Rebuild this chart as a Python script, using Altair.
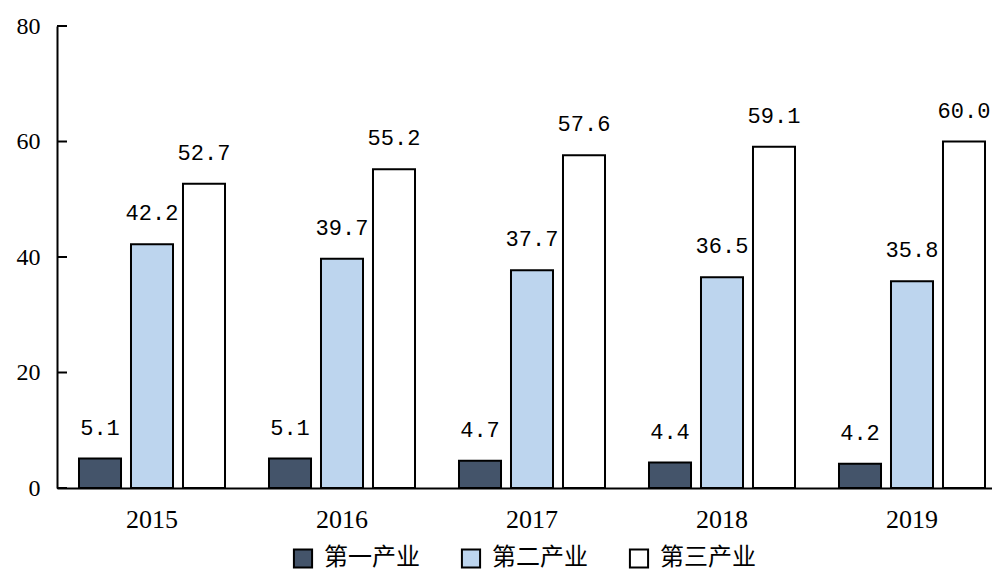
import altair as alt
import pandas as pd

years = ["2015", "2016", "2017", "2018", "2019"]
series = ["第一产业", "第二产业", "第三产业"]
primary = [5.1, 5.1, 4.7, 4.4, 4.2]
secondary = [42.2, 39.7, 37.7, 36.5, 35.8]
tertiary = [52.7, 55.2, 57.6, 59.1, 60.0]
y_ticks = [0, 20, 40, 60, 80]
colors = ["#44546a", "#bdd5ee", "#ffffff"]

rows = []
for i, y in enumerate(years):
    for s, vals in zip(series, [primary, secondary, tertiary]):
        rows.append({"year": y, "series": s, "value": vals[i]})
df = pd.DataFrame(rows)
ticks_df = pd.DataFrame({"t": y_ticks})

xenc = alt.X("year:N", sort=years,
             scale=alt.Scale(range=[0, 950], paddingInner=0, paddingOuter=0),
             axis=alt.Axis(title=None, labelAngle=0, ticks=False, domainColor="black",
                           domainWidth=2, labelFont="Liberation Serif", labelFontSize=26,
                           labelColor="black", labelPadding=18))
xoff = alt.XOffset("series:N", sort=series,
                   scale=alt.Scale(paddingInner=0.192, paddingOuter=0.423))
yscale = alt.Scale(domain=[0, 80], nice=False)

bars = alt.Chart(df).mark_bar(stroke="black", strokeWidth=2).encode(
    x=xenc,
    xOffset=xoff,
    y=alt.Y("value:Q", scale=yscale,
            axis=alt.Axis(title=None, values=y_ticks, ticks=False, grid=False,
                          domainColor="black", domainWidth=2,
                          labelFont="Liberation Serif", labelFontSize=24,
                          labelColor="black", labelPadding=17)),
    color=alt.Color("series:N", sort=series,
                    scale=alt.Scale(domain=series, range=colors),
                    legend=alt.Legend(title=None, orient="none", direction="horizontal",
                                      legendX=234, legendY=520, padding=0,
                                      symbolType="square", symbolSize=330,
                                      symbolStrokeColor="black", symbolStrokeWidth=2,
                                      symbolOpacity=1,
                                      labelFont="Noto Sans CJK SC", labelFontSize=24,
                                      labelColor="black", labelOffset=9,
                                      columnPadding=37)),
)

labels = alt.Chart(df).mark_text(font="Liberation Mono", fontSize=22, color="black",
                                 baseline="middle", dy=-31).encode(
    x=alt.X("year:N", sort=years),
    xOffset=xoff,
    y=alt.Y("value:Q", scale=yscale),
    text=alt.Text("value:Q", format=".1f"),
)

tick_marks = alt.Chart(ticks_df).mark_rule(color="black", strokeWidth=2).encode(
    y=alt.Y("t:Q", scale=yscale),
    x=alt.value(0),
    x2=alt.value(10),
)

chart = alt.layer(bars, labels, tick_marks).properties(
    width=935, height=462,
    autosize=alt.AutoSizeParams(type="none"),
    padding={"left": 49, "top": 18, "right": 0, "bottom": 85},
).configure_view(stroke=None)

chart.save("out.html", embed_options={"renderer": "svg", "actions": False})
